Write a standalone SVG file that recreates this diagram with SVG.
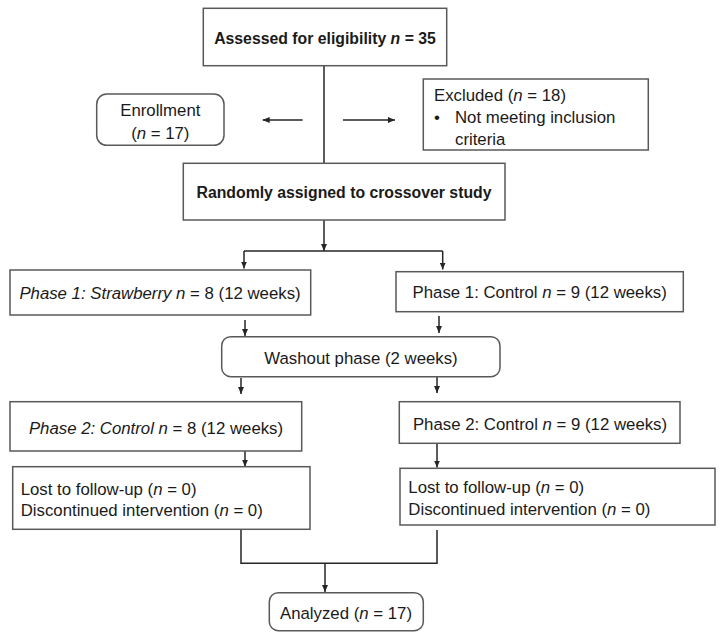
<svg xmlns="http://www.w3.org/2000/svg" width="724" height="642" viewBox="0 0 724 642">
<defs>
<style>
.box{fill:#fff;stroke:#595959;stroke-width:1.5}
.t{font-family:"Liberation Sans",Arial,sans-serif;font-size:16.8px;fill:#1a1a1a}
.b{font-weight:bold;font-size:15.8px}
.c{text-anchor:middle}
.i{font-style:italic}
.ln{fill:none;stroke:#262626;stroke-width:1.5}
.ar{fill:none;stroke:#262626;stroke-width:1.5;marker-end:url(#ah)}
</style>
<marker id="ah" viewBox="0 0 7 6" refX="7" refY="3" markerWidth="7" markerHeight="6" orient="auto" markerUnits="userSpaceOnUse"><path d="M0,0L7,3L0,6z" fill="#262626"/></marker>
</defs>
<rect width="724" height="642" fill="#fff"/>

<g id="connectors">
<line class="ln" x1="324" y1="65.7" x2="324" y2="163.3"/>
<line class="ar" x1="302.7" y1="120" x2="262.7" y2="120"/>
<line class="ar" x1="343" y1="120" x2="395" y2="120"/>
<line class="ar" x1="324" y1="220" x2="324" y2="251"/>
<line class="ln" x1="244" y1="251" x2="442.7" y2="251"/>
<line class="ar" x1="244" y1="251" x2="244" y2="268.5"/>
<line class="ar" x1="442.7" y1="251" x2="442.7" y2="269.5"/>
<line class="ar" x1="245" y1="320" x2="245" y2="336"/>
<line class="ar" x1="439" y1="316" x2="439" y2="333"/>
<line class="ar" x1="241" y1="378" x2="241" y2="394"/>
<line class="ar" x1="437" y1="377" x2="437" y2="393"/>
<line class="ar" x1="245" y1="451" x2="245" y2="466.7"/>
<line class="ar" x1="437" y1="443.3" x2="437" y2="467.5"/>
<polyline class="ln" points="241,530 241,563.3 437,563.3 437,530"/>
<line class="ar" x1="325" y1="563.3" x2="325" y2="592"/>
</g>

<g id="assessed">
<rect class="box" x="203.3" y="8.3" width="243.4" height="57.4"/>
<text class="t b c" x="325" y="43.5">Assessed for eligibility <tspan class="i">n</tspan> = 35</text>
</g>
<g id="enrollment">
<rect class="box" x="96.7" y="94" width="127.3" height="51.3" rx="10"/>
<text class="t c" x="160.3" y="115.5">Enrollment</text>
<text class="t c" x="160.3" y="138.5">(<tspan class="i">n</tspan> = 17)</text>
</g>
<g id="excluded">
<rect class="box" x="423.3" y="79" width="225" height="71"/>
<text class="t" x="434" y="101">Excluded (<tspan class="i">n</tspan> = 18)</text>
<text class="t" x="434" y="123">•</text>
<text class="t" x="455" y="123">Not meeting inclusion</text>
<text class="t" x="455" y="144.5">criteria</text>
</g>
<g id="randomized">
<rect class="box" x="183.3" y="163.3" width="321.7" height="56.7"/>
<text class="t b c" x="344" y="197.5">Randomly assigned to crossover study</text>
</g>
<g id="phase1-strawberry">
<rect class="box" x="10" y="270" width="300.7" height="45"/>
<text class="t c" x="160" y="299"><tspan class="i">Phase 1: Strawberry</tspan> <tspan class="i">n</tspan> = 8 (12 weeks)</text>
</g>
<g id="phase1-control">
<rect class="box" x="396" y="271.7" width="287.3" height="40"/>
<text class="t c" x="539.7" y="298">Phase 1: Control <tspan class="i">n</tspan> = 9 (12 weeks)</text>
</g>
<g id="washout">
<rect class="box" x="221.7" y="336.7" width="278.3" height="40" rx="9"/>
<text class="t c" x="361" y="364">Washout phase (2 weeks)</text>
</g>
<g id="phase2-left">
<rect class="box" x="10" y="401.7" width="291.7" height="49.3"/>
<text class="t c" x="156" y="433.5"><tspan class="i">Phase 2: Control</tspan> <tspan class="i">n</tspan> = 8 (12 weeks)</text>
</g>
<g id="phase2-right">
<rect class="box" x="399.3" y="401.7" width="280.7" height="41.6"/>
<text class="t c" x="540" y="429.5">Phase 2: Control <tspan class="i">n</tspan> = 9 (12 weeks)</text>
</g>
<g id="lost-left">
<rect class="box" x="12.7" y="466.7" width="297.3" height="62.6"/>
<text class="t" x="20.7" y="494.5">Lost to follow-up (<tspan class="i">n</tspan> = 0)</text>
<text class="t" x="20.7" y="516">Discontinued intervention (<tspan class="i">n</tspan> = 0)</text>
</g>
<g id="lost-right">
<rect class="box" x="400" y="468.3" width="315" height="56.7"/>
<text class="t" x="408.3" y="493">Lost to follow-up (<tspan class="i">n</tspan> = 0)</text>
<text class="t" x="408.3" y="514.5">Discontinued intervention (<tspan class="i">n</tspan> = 0)</text>
</g>
<g id="analyzed">
<rect class="box" x="269.3" y="592.7" width="154" height="38" rx="9"/>
<text class="t c" x="346" y="618.5">Analyzed (<tspan class="i">n</tspan> = 17)</text>
</g>
</svg>
